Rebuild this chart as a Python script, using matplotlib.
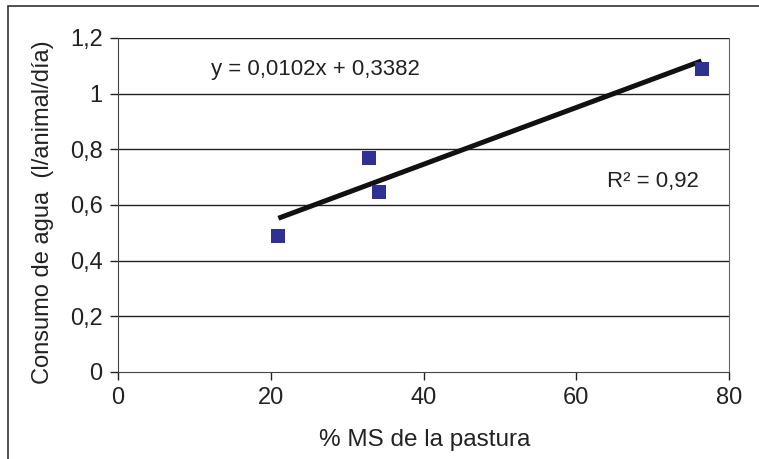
import numpy as np
import matplotlib
matplotlib.use("Agg")
import matplotlib.pyplot as plt
from matplotlib.patches import Rectangle

ms_pastura = [21.0, 32.9, 34.2, 76.4]
consumo = [0.49, 0.77, 0.645, 1.087]
slope = 0.0102
intercept = 0.3382
x_ticks = [0, 20, 40, 60, 80]
y_ticks = [0, 0.2, 0.4, 0.6, 0.8, 1.0, 1.2]
y_labels = ["0", "0,2", "0,4", "0,6", "0,8", "1", "1,2"]

plt.rcParams['font.family'] = ['Liberation Sans', 'DejaVu Sans']

fig = plt.figure(figsize=(7.59, 4.59), dpi=100)
ax = fig.add_axes([118/759, 1-372/459, 611/759, 334/459])

# outer frame (cropped at right and bottom)
fig.patches.append(Rectangle((8/759, -0.05), 1.2, 1-6/459+0.05, transform=fig.transFigure,
                             fill=False, edgecolor="#333333", lw=1.2))

for y in y_ticks[1:]:
    ax.axhline(y, color="#222222", lw=1.0, zorder=1)

ax.scatter(ms_pastura, consumo, marker="s", s=100, color="#2E3192", zorder=3, linewidths=0)

xl = np.array([min(ms_pastura), max(ms_pastura)])
ax.plot(xl, slope*xl + intercept, color="#111111", lw=3.6, solid_capstyle="butt", zorder=2)

ax.set_xlim(0, 80)
ax.set_ylim(0, 1.2)
ax.set_xticks(x_ticks)
ax.set_yticks(y_ticks)
ax.set_yticklabels(y_labels)
ax.tick_params(labelsize=17, colors="#222222", length=6, width=1.0, pad=5)
for s in ["left", "bottom"]:
    ax.spines[s].set_color("#444444")
ax.spines["top"].set_visible(False)
ax.spines["right"].set_color("#666666")

fig.text(425/759, 1-440/459, "% MS de la pastura", fontsize=17.5, color="#222222",
         ha="center", va="center")
fig.text(43/759, 1-212/459, "Consumo de agua  (l/animal/día)", fontsize=17, color="#222222",
         ha="center", va="center", rotation=90)

ax.text(0.152, 0.905, "y = 0,0102x + 0,3382", transform=ax.transAxes, fontsize=16,
        color="#222222", va="center")
ax.text(0.8, 0.57, "R² = 0,92", transform=ax.transAxes, fontsize=16,
        color="#222222", va="center")

fig.savefig("out.png", dpi=100)
